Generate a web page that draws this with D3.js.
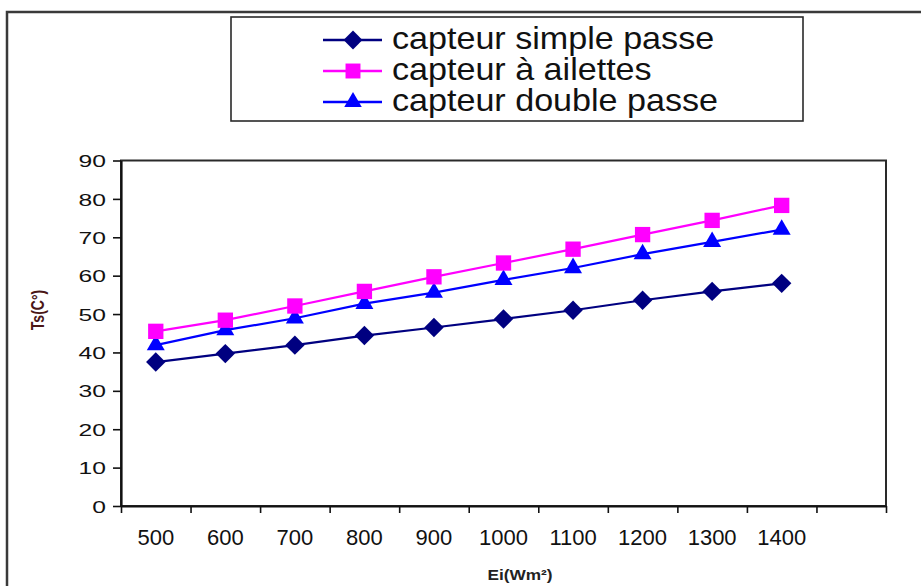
<!DOCTYPE html>
<html>
<head>
<meta charset="utf-8">
<script src="https://cdn.jsdelivr.net/npm/d3@7"></script>
<style>
  body { margin: 0; background: #fff; }
  svg { display: block; font-family: "Liberation Sans", Arial, sans-serif; }
</style>
</head>
<body>
<svg id="chart" width="921" height="586"></svg>
<script>
// Irradiance (W/m²) and outlet temperature Ts (°C) of the three collectors
const irradiance = [500, 600, 700, 800, 900, 1000, 1100, 1200, 1300, 1400];
const simplePasse = [37.5, 39.7, 41.9, 44.4, 46.5, 48.7, 51.0, 53.6, 55.9, 58.0];
const ailettes    = [45.5, 48.4, 52.1, 55.9, 59.7, 63.3, 66.9, 70.7, 74.4, 78.3];
const doublePasse = [41.9, 45.8, 48.9, 52.7, 55.6, 58.9, 62.0, 65.6, 68.8, 72.0];
const yTicks = [0, 10, 20, 30, 40, 50, 60, 70, 80, 90];
const seriesNames = ["capteur simple passe", "capteur à ailettes", "capteur double passe"];
const xTitle = "Ei(Wm²)";
const yTitle = "Ts(C°)";

const svg = d3.select("#chart");

// Category axis keeps one empty slot after the last irradiance value
const slots = irradiance.map(String).concat([""]);
const plot = { left: 121, right: 886, top: 160.5, bottom: 506 };

const x = d3.scaleBand().domain(slots).range([plot.left, plot.right]);
const xEdges = d3.scaleLinear().domain([0, slots.length]).range([plot.left, plot.right]);
const y = d3.scaleLinear().domain([0, 90]).range([plot.bottom, plot.top]);

// Outer frame
svg.append("path")
  .attr("d", "M7,600 V12 H930")
  .attr("fill", "none")
  .attr("stroke", "#3a3a3a")
  .attr("stroke-width", 2.5);

// Plot area frame
svg.append("rect")
  .attr("x", plot.left).attr("y", plot.top)
  .attr("width", plot.right - plot.left).attr("height", plot.bottom - plot.top)
  .attr("fill", "#fff")
  .attr("stroke", "#2a2a2a")
  .attr("stroke-width", 2);

// Y axis
const yAxis = svg.append("g")
  .attr("transform", `translate(${plot.left},0)`)
  .call(d3.axisLeft(y).tickValues(yTicks).tickSize(8).tickSizeOuter(0).tickPadding(0));
yAxis.select(".domain").attr("stroke", "#111").attr("stroke-width", 2.2);
yAxis.selectAll(".tick line").attr("stroke", "#111").attr("stroke-width", 1.6);
yAxis.selectAll(".tick text")
  .attr("x", 0).attr("dy", "0.36em")
  .attr("transform", "translate(-15,0) scale(1.45,1)")
  .attr("font-size", 17)
  .attr("fill", "#111")
  .style("font-family", "'Liberation Sans', Arial, sans-serif");

// X axis: ticks on the category boundaries
const xTickAxis = svg.append("g")
  .attr("transform", `translate(0,${plot.bottom})`)
  .call(d3.axisBottom(xEdges).tickValues(d3.range(slots.length + 1)).tickFormat("").tickSize(7).tickSizeOuter(0));
xTickAxis.select(".domain").attr("stroke", "#111").attr("stroke-width", 2.2);
xTickAxis.selectAll(".tick line").attr("stroke", "#111").attr("stroke-width", 1.6);

// X axis: category labels centred in each slot
const xLabelAxis = svg.append("g")
  .attr("transform", `translate(0,${plot.bottom})`)
  .call(d3.axisBottom(x).tickSize(0).tickPadding(0));
xLabelAxis.select(".domain").remove();
xLabelAxis.selectAll(".tick text")
  .attr("y", 39).attr("dy", 0)
  .attr("font-size", 22)
  .attr("fill", "#111")
  .style("font-family", "'Liberation Sans', Arial, sans-serif");

// Axis titles
svg.append("text")
  .attr("transform", "translate(44,310) rotate(-90) scale(1,1.25)")
  .attr("text-anchor", "middle")
  .attr("font-size", 14)
  .attr("font-weight", "bold")
  .attr("fill", "#4a1616")
  .text(yTitle);

svg.append("text")
  .attr("transform", "translate(520,580) scale(1.15,1)")
  .attr("text-anchor", "middle")
  .attr("font-size", 15)
  .attr("font-weight", "bold")
  .attr("fill", "#222")
  .text(xTitle);

// Series
const series = [
  { name: seriesNames[0], values: simplePasse, color: "#000080", symbol: d3.symbolDiamond2, size: 240 },
  { name: seriesNames[1], values: ailettes,    color: "#ff00ff", symbol: d3.symbolSquare,   size: 235 },
  { name: seriesNames[2], values: doublePasse, color: "#0000ff", symbol: d3.symbolTriangle, size: 140 }
];

const line = d3.line()
  .x((d, i) => x(String(irradiance[i])) + x.bandwidth() / 2)
  .y(d => y(d));

const drawOrder = [series[0], series[2], series[1]];
drawOrder.forEach(s => {
  svg.append("path")
    .datum(s.values)
    .attr("d", line)
    .attr("fill", "none")
    .attr("stroke", s.color)
    .attr("stroke-width", 2.2);
});
drawOrder.forEach(s => {
  svg.append("g").selectAll("path")
    .data(s.values)
    .join("path")
    .attr("transform", (d, i) => `translate(${x(String(irradiance[i])) + x.bandwidth() / 2},${y(d)})`)
    .attr("d", d3.symbol().type(s.symbol).size(s.size))
    .attr("fill", s.color);
});

// Legend
const legend = svg.append("g");
legend.append("rect")
  .attr("x", 231).attr("y", 17).attr("width", 572).attr("height", 104)
  .attr("fill", "#fff")
  .attr("stroke", "#2a2a2a")
  .attr("stroke-width", 1.6);

const legendRows = [40, 71, 102];
series.forEach((s, i) => {
  const ry = legendRows[i];
  legend.append("line")
    .attr("x1", 323).attr("x2", 382).attr("y1", ry).attr("y2", ry)
    .attr("stroke", s.color).attr("stroke-width", 2.4);
  legend.append("path")
    .attr("transform", `translate(353,${ry})`)
    .attr("d", d3.symbol().type(s.symbol).size(s.size * 0.95))
    .attr("fill", s.color);
  legend.append("text")
    .attr("transform", `translate(392,${ry + 9}) scale(1.1,1)`)
    .attr("font-size", 31)
    .attr("fill", "#111")
    .text(s.name);
});
</script>
</body>
</html>
